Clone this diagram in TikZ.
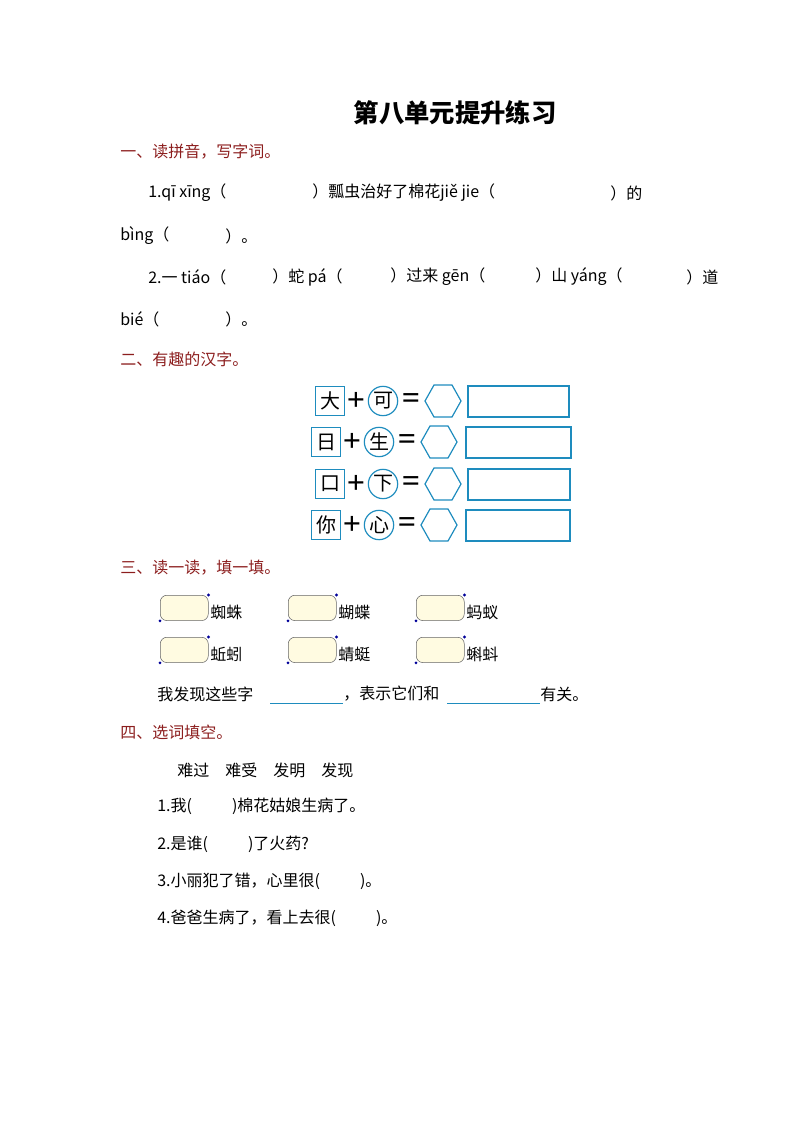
\documentclass[tikz,border=0pt]{standalone}
\usepackage{fontspec}
\setmainfont{Liberation Serif}
\newfontfamily\cjk{Noto Sans CJK SC}
\begin{document}
\begin{tikzpicture}[x=0.75pt,y=-0.75pt,
  txt/.style={anchor=west,inner sep=0,font=\cjk\fontsize{12}{14}\selectfont},
  head/.style={txt,text={rgb,255:red,140;green,30;blue,30}},
  sq/.style={draw={rgb,255:red,30;green,140;blue,190},line width=0.9pt,minimum size=22pt,inner sep=0,font=\cjk\fontsize{15}{15}\selectfont},
  circ/.style={circle,draw={rgb,255:red,30;green,140;blue,190},line width=0.9pt,minimum size=22pt,inner sep=0,font=\cjk\fontsize{15}{15}\selectfont},
  sym/.style={inner sep=0,font=\bfseries\fontsize{24}{24}\selectfont},
  bub/.style={draw=gray!80!black,fill={rgb,255:red,255;green,251;blue,225},rounded corners=5,minimum width=36pt,minimum height=19pt,inner sep=0,anchor=north west},
  bcol/.style={draw={rgb,255:red,30;green,140;blue,190},line width=0.9pt}]
\useasboundingbox (0,0) rectangle (794,1123);
\node[anchor=center,inner sep=0,font=\cjk\bfseries\fontsize{19}{20}\selectfont] (title) at (455,113) {第八单元提升练习};
\node[head] (h1) at (120,152) {一、读拼音，写字词。};
\node[txt] (l1a) at (148,193) {1.qī xīng（};
\node[txt] (l1b) at (312,193) {）瓢虫治好了棉花jiě jie（};
\node[txt] (l1c) at (610,193) {）的};
\node[txt] (l2a) at (120,236) {bìng（};
\node[txt] (l2b) at (225,236) {）。};
\node[txt] (l3a) at (148,277) {2.一 tiáo（};
\node[txt] (l3b) at (272,277) {）蛇 pá（};
\node[txt] (l3c) at (390,277) {）过来 gēn（};
\node[txt] (l3d) at (535,277) {）山 yáng（};
\node[txt] (l3e) at (686,277) {）道};
\node[txt] (l4a) at (120,319) {bié（};
\node[txt] (l4b) at (225,319) {）。};
\node[head] (h2) at (120,359) {二、有趣的汉字。};
\foreach \y/\a/\b/\dx/\rw [count=\i] in {401/大/可/0/101, 442/日/生/-4/105, 484/口/下/0/102, 525/你/心/-4/104}{
  \node[sq] (s\i) at (330+\dx,\y) {\a};
  \node[sym] (p\i) at (356+\dx,\y) {+};
  \node[circ] (c\i) at (383+\dx,\y) {\b};
  \node[sym] (e\i) at (411+\dx,\y) {=};
  \draw[bcol] (425+\dx,\y) -- ++(9,-16) -- ++(18,0) -- ++(9,16) -- ++(-9,16) -- ++(-18,0) -- cycle;
  \draw[bcol] (468+\dx/2,\y-15) rectangle ++(\rw,31);
}
\node[head] (h3) at (120,568) {三、读一读，填一填。};
\foreach \x/\wa/\wb [count=\i] in {160/蜘蛛/蚯蚓, 288/蝴蝶/蜻蜓, 416/蚂蚁/蝌蚪}{
  \node[bub] (ba\i) at (\x,595) {};
  \node[bub] (bb\i) at (\x,637) {};
  \fill[blue!60!black] (ba\i.south west) circle (1.6);
  \fill[blue!60!black] (ba\i.north east) circle (1.6);
  \fill[blue!60!black] (bb\i.south west) circle (1.6);
  \fill[blue!60!black] (bb\i.north east) circle (1.6);
  \node[txt] (ta\i) at (\x+50,612) {\wa};
  \node[txt] (tb\i) at (\x+50,654) {\wb};
}
\node[txt] (f1) at (157,694) {我发现这些字};
\node[txt] (f2) at (343,694) {，表示它们和};
\node[txt] (f3) at (540,694) {有关。};
\coordinate (u1a) at (270,703); \coordinate (u1b) at (343,703);
\coordinate (u2a) at (447,703); \coordinate (u2b) at (540,703);
\draw[bcol,line width=0.6pt] (u1a) -- (u1b);
\draw[bcol,line width=0.6pt] (u2a) -- (u2b);
\node[head] (h4) at (120,732) {四、选词填空。};
\node[txt] (w) at (177,770) {难过\hspace{1em}难受\hspace{1em}发明\hspace{1em}发现};
\node[txt] (q1) at (157,806) {1.我(\hspace{2.5em})棉花姑娘生病了。};
\node[txt] (q2) at (157,844) {2.是谁(\hspace{2.5em})了火药?};
\node[txt] (q3) at (157,881) {3.小丽犯了错，心里很(\hspace{2.5em})。};
\node[txt] (q4) at (157,918) {4.爸爸生病了，看上去很(\hspace{2.5em})。};
\end{tikzpicture}
\end{document}
